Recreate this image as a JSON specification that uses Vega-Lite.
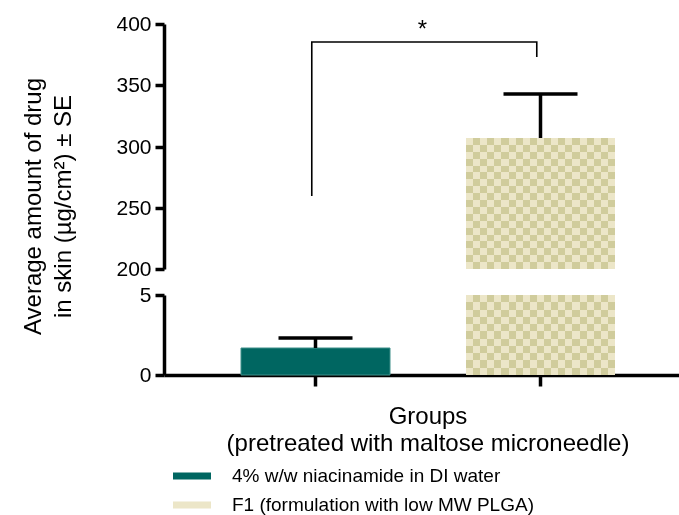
{
  "$schema": "https://vega.github.io/schema/vega-lite/v6.json",
  "padding": {"left": 20, "top": 13, "right": 0, "bottom": 12},
  "background": "white",
  "bounds": "flush",
  "spacing": 26,
  "config": {
    "font": "Liberation Sans",
    "view": {"stroke": null},
    "axis": {
      "domainColor": "black", "domainWidth": 3.5, "tickColor": "black", "tickWidth": 3.5, "tickSize": 9,
      "labelFont": "Liberation Sans", "labelFontSize": 21, "labelColor": "black", "labelPadding": 4, "grid": false,
      "titleFont": "Liberation Sans", "titleFontSize": 24, "titleFontWeight": "normal", "titleColor": "black"
    },
    "legend": {
      "title": null, "orient": "none", "legendX": 9, "legendY": 433, "direction": "vertical", "padding": 0,
      "symbolType": "M-1,-0.18H1V0.18H-1Z", "symbolSize": 1444, "symbolStrokeWidth": 0,
      "labelFont": "Liberation Sans", "labelFontSize": 19, "labelColor": "black", "labelOffset": 21, "rowPadding": -3, "labelLimit": 500
    }
  },
  "datasets": {
    "bars": [
      {"group": "4% w/w niacinamide in DI water", "mean": 1.67, "upper": 2.33},
      {"group": "F1 (formulation with low MW PLGA)", "mean": 307, "upper": 343}
    ],
    "bracket": [
      {"group": "4% w/w niacinamide in DI water", "v": 260, "o": 1},
      {"group": "4% w/w niacinamide in DI water", "v": 385, "o": 2},
      {"group": "F1 (formulation with low MW PLGA)", "v": 385, "o": 3},
      {"group": "F1 (formulation with low MW PLGA)", "v": 373, "o": 4}
    ],
    "star": [
      {"group": "4% w/w niacinamide in DI water", "v": 385}
    ]
  },
  "vconcat": [
    {
      "width": 527,
      "height": 245,
      "layer": [
        {
          "data": {"name": "bars"},
          "transform": [{"filter": "datum.mean > 100"}],
          "mark": {"type": "bar"},
          "encoding": {
            "x": {"field": "group", "type": "nominal", "axis": null,
                  "scale": {"domain": ["4% w/w niacinamide in DI water", "F1 (formulation with low MW PLGA)"], "paddingInner": 0.338, "paddingOuter": 0.34, "round": true}},
            "y": {"field": "mean", "type": "quantitative",
                  "scale": {"domain": [200, 400], "clamp": true, "zero": false, "nice": false, "round": true},
                  "axis": {"values": [200, 250, 300, 350, 400], "title": ["Average amount of drug", "in skin (µg/cm²) ± SE"],
                           "titleX": -131, "titleY": 182, "titleBaseline": "middle", "titleAlign": "center", "titleLineHeight": 30}},
            "color": {"field": "group", "type": "nominal",
                      "scale": {"domain": ["4% w/w niacinamide in DI water", "F1 (formulation with low MW PLGA)"], "range": ["#006661", "#ece6c8"]},
                      "legend": {"encode": {"symbols": {"update": {"fill": {"signal": "datum.value === 'F1 (formulation with low MW PLGA)' ? {gradient: 'linear', x1: 0, y1: 0, x2: 1, y2: 0, stops: [{offset: 0, color: '#d3cfa3'}, {offset: 0.22, color: '#d3cfa3'}, {offset: 0.22, color: '#ece7ca'}, {offset: 0.26, color: '#ece7ca'}, {offset: 0.26, color: '#d3cfa3'}, {offset: 0.48, color: '#d3cfa3'}, {offset: 0.48, color: '#ece7ca'}, {offset: 0.52, color: '#ece7ca'}, {offset: 0.52, color: '#d3cfa3'}, {offset: 0.74, color: '#d3cfa3'}, {offset: 0.74, color: '#ece7ca'}, {offset: 0.78, color: '#ece7ca'}, {offset: 0.78, color: '#d3cfa3'}, {offset: 1, color: '#d3cfa3'}]} : '#006661'"}}}}}}
          }
        },
        {
          "data": {"name": "bars"},
          "transform": [{"filter": "datum.mean > 100"}],
          "mark": {"type": "bar", "fill": {"gradient": "linear", "x1": 0, "y1": 0, "x2": 1, "y2": 0, "stops": [
            {"offset": 0, "color": "#000000"}, {"offset": 0.047619, "color": "#000000"},
            {"offset": 0.047619, "color": "#1c1a2c"}, {"offset": 0.095238, "color": "#1c1a2c"},
            {"offset": 0.095238, "color": "#000000"}, {"offset": 0.142857, "color": "#000000"},
            {"offset": 0.142857, "color": "#1c1a2c"}, {"offset": 0.190476, "color": "#1c1a2c"},
            {"offset": 0.190476, "color": "#000000"}, {"offset": 0.238095, "color": "#000000"},
            {"offset": 0.238095, "color": "#1c1a2c"}, {"offset": 0.285714, "color": "#1c1a2c"},
            {"offset": 0.285714, "color": "#000000"}, {"offset": 0.333333, "color": "#000000"},
            {"offset": 0.333333, "color": "#1c1a2c"}, {"offset": 0.380952, "color": "#1c1a2c"},
            {"offset": 0.380952, "color": "#000000"}, {"offset": 0.428571, "color": "#000000"},
            {"offset": 0.428571, "color": "#1c1a2c"}, {"offset": 0.47619, "color": "#1c1a2c"},
            {"offset": 0.47619, "color": "#000000"}, {"offset": 0.52381, "color": "#000000"},
            {"offset": 0.52381, "color": "#1c1a2c"}, {"offset": 0.571429, "color": "#1c1a2c"},
            {"offset": 0.571429, "color": "#000000"}, {"offset": 0.619048, "color": "#000000"},
            {"offset": 0.619048, "color": "#1c1a2c"}, {"offset": 0.666667, "color": "#1c1a2c"},
            {"offset": 0.666667, "color": "#000000"}, {"offset": 0.714286, "color": "#000000"},
            {"offset": 0.714286, "color": "#1c1a2c"}, {"offset": 0.761905, "color": "#1c1a2c"},
            {"offset": 0.761905, "color": "#000000"}, {"offset": 0.809524, "color": "#000000"},
            {"offset": 0.809524, "color": "#1c1a2c"}, {"offset": 0.857143, "color": "#1c1a2c"},
            {"offset": 0.857143, "color": "#000000"}, {"offset": 0.904762, "color": "#000000"},
            {"offset": 0.904762, "color": "#1c1a2c"}, {"offset": 0.952381, "color": "#1c1a2c"},
            {"offset": 0.952381, "color": "#000000"}, {"offset": 1, "color": "#000000"}
          ]}},
          "encoding": {
            "x": {"field": "group", "type": "nominal", "axis": null},
            "y": {"field": "mean", "type": "quantitative"}
          }
        },
        {
          "data": {"name": "bars"},
          "transform": [{"filter": "datum.mean > 100"}],
          "mark": {"type": "bar", "blend": "difference", "fill": {"gradient": "linear", "x1": 0, "y1": 0, "x2": 0, "y2": 1, "stops": [
            {"offset": 0, "color": "#000000"}, {"offset": 0.052632, "color": "#000000"},
            {"offset": 0.052632, "color": "#1c1a2c"}, {"offset": 0.105263, "color": "#1c1a2c"},
            {"offset": 0.105263, "color": "#000000"}, {"offset": 0.157895, "color": "#000000"},
            {"offset": 0.157895, "color": "#1c1a2c"}, {"offset": 0.210526, "color": "#1c1a2c"},
            {"offset": 0.210526, "color": "#000000"}, {"offset": 0.263158, "color": "#000000"},
            {"offset": 0.263158, "color": "#1c1a2c"}, {"offset": 0.315789, "color": "#1c1a2c"},
            {"offset": 0.315789, "color": "#000000"}, {"offset": 0.368421, "color": "#000000"},
            {"offset": 0.368421, "color": "#1c1a2c"}, {"offset": 0.421053, "color": "#1c1a2c"},
            {"offset": 0.421053, "color": "#000000"}, {"offset": 0.473684, "color": "#000000"},
            {"offset": 0.473684, "color": "#1c1a2c"}, {"offset": 0.526316, "color": "#1c1a2c"},
            {"offset": 0.526316, "color": "#000000"}, {"offset": 0.578947, "color": "#000000"},
            {"offset": 0.578947, "color": "#1c1a2c"}, {"offset": 0.631579, "color": "#1c1a2c"},
            {"offset": 0.631579, "color": "#000000"}, {"offset": 0.684211, "color": "#000000"},
            {"offset": 0.684211, "color": "#1c1a2c"}, {"offset": 0.736842, "color": "#1c1a2c"},
            {"offset": 0.736842, "color": "#000000"}, {"offset": 0.789474, "color": "#000000"},
            {"offset": 0.789474, "color": "#1c1a2c"}, {"offset": 0.842105, "color": "#1c1a2c"},
            {"offset": 0.842105, "color": "#000000"}, {"offset": 0.894737, "color": "#000000"},
            {"offset": 0.894737, "color": "#1c1a2c"}, {"offset": 0.947368, "color": "#1c1a2c"},
            {"offset": 0.947368, "color": "#000000"}, {"offset": 1, "color": "#000000"}
          ]}},
          "encoding": {
            "x": {"field": "group", "type": "nominal", "axis": null},
            "y": {"field": "mean", "type": "quantitative"}
          }
        },
        {
          "data": {"name": "bars"},
          "transform": [{"filter": "datum.mean > 100"}],
          "mark": {"type": "bar", "blend": "difference", "fill": "#ece6c8"},
          "encoding": {
            "x": {"field": "group", "type": "nominal", "axis": null},
            "y": {"field": "mean", "type": "quantitative"}
          }
        },
        {
          "data": {"name": "bars"},
          "transform": [{"filter": "datum.mean > 100"}],
          "mark": {"type": "rule", "color": "black", "strokeWidth": 3.5},
          "encoding": {
            "x": {"field": "group", "type": "nominal", "axis": null},
            "y": {"field": "mean", "type": "quantitative"},
            "y2": {"field": "upper"}
          }
        },
        {
          "data": {"name": "bars"},
          "transform": [{"filter": "datum.mean > 100"}],
          "mark": {"type": "tick", "color": "black", "size": 74, "thickness": 3.5, "opacity": 1},
          "encoding": {
            "x": {"field": "group", "type": "nominal", "axis": null},
            "y": {"field": "upper", "type": "quantitative"}
          }
        },
        {
          "data": {"name": "bracket"},
          "mark": {"type": "line", "color": "black", "strokeWidth": 1.6},
          "encoding": {
            "x": {"field": "group", "type": "nominal", "axis": null, "bandPosition": 0.475},
            "y": {"field": "v", "type": "quantitative"},
            "order": {"field": "o", "type": "quantitative"}
          }
        },
        {
          "data": {"name": "star"},
          "mark": {"type": "text", "text": "*", "fontSize": 24, "baseline": "alphabetic", "dy": -5, "color": "black", "font": "Liberation Sans"},
          "encoding": {
            "x": {"field": "group", "type": "nominal", "axis": null, "bandPosition": 1.218},
            "y": {"field": "v", "type": "quantitative"}
          }
        }
      ]
    },
    {
      "width": 527,
      "height": 80,
      "layer": [
        {
          "data": {"name": "bars"},
          "transform": [{"filter": "datum.mean < 100"}],
          "mark": {"type": "bar", "stroke": "#3f8f8a", "strokeWidth": 1},
          "encoding": {
            "x": {"field": "group", "type": "nominal",
                  "scale": {"domain": ["4% w/w niacinamide in DI water", "F1 (formulation with low MW PLGA)"], "paddingInner": 0.338, "paddingOuter": 0.34, "round": true},
                  "axis": {"labels": false, "tickSize": 11, "title": ["Groups", "(pretreated with maltose microneedle)"], "titlePadding": 17, "titleLineHeight": 27}},
            "y": {"field": "mean", "type": "quantitative",
                  "scale": {"domain": [0, 5], "clamp": true, "nice": false, "round": true},
                  "axis": {"values": [0, 5], "title": null}},
            "color": {"field": "group", "type": "nominal",
                      "scale": {"domain": ["4% w/w niacinamide in DI water", "F1 (formulation with low MW PLGA)"], "range": ["#006661", "#ece6c8"]}}
          }
        },
        {
          "data": {"name": "bars"},
          "transform": [{"filter": "datum.mean > 100"}],
          "mark": {"type": "bar", "fill": {"gradient": "linear", "x1": 0, "y1": 0, "x2": 1, "y2": 0, "stops": [
            {"offset": 0, "color": "#000000"}, {"offset": 0.047619, "color": "#000000"},
            {"offset": 0.047619, "color": "#1c1a2c"}, {"offset": 0.095238, "color": "#1c1a2c"},
            {"offset": 0.095238, "color": "#000000"}, {"offset": 0.142857, "color": "#000000"},
            {"offset": 0.142857, "color": "#1c1a2c"}, {"offset": 0.190476, "color": "#1c1a2c"},
            {"offset": 0.190476, "color": "#000000"}, {"offset": 0.238095, "color": "#000000"},
            {"offset": 0.238095, "color": "#1c1a2c"}, {"offset": 0.285714, "color": "#1c1a2c"},
            {"offset": 0.285714, "color": "#000000"}, {"offset": 0.333333, "color": "#000000"},
            {"offset": 0.333333, "color": "#1c1a2c"}, {"offset": 0.380952, "color": "#1c1a2c"},
            {"offset": 0.380952, "color": "#000000"}, {"offset": 0.428571, "color": "#000000"},
            {"offset": 0.428571, "color": "#1c1a2c"}, {"offset": 0.47619, "color": "#1c1a2c"},
            {"offset": 0.47619, "color": "#000000"}, {"offset": 0.52381, "color": "#000000"},
            {"offset": 0.52381, "color": "#1c1a2c"}, {"offset": 0.571429, "color": "#1c1a2c"},
            {"offset": 0.571429, "color": "#000000"}, {"offset": 0.619048, "color": "#000000"},
            {"offset": 0.619048, "color": "#1c1a2c"}, {"offset": 0.666667, "color": "#1c1a2c"},
            {"offset": 0.666667, "color": "#000000"}, {"offset": 0.714286, "color": "#000000"},
            {"offset": 0.714286, "color": "#1c1a2c"}, {"offset": 0.761905, "color": "#1c1a2c"},
            {"offset": 0.761905, "color": "#000000"}, {"offset": 0.809524, "color": "#000000"},
            {"offset": 0.809524, "color": "#1c1a2c"}, {"offset": 0.857143, "color": "#1c1a2c"},
            {"offset": 0.857143, "color": "#000000"}, {"offset": 0.904762, "color": "#000000"},
            {"offset": 0.904762, "color": "#1c1a2c"}, {"offset": 0.952381, "color": "#1c1a2c"},
            {"offset": 0.952381, "color": "#000000"}, {"offset": 1, "color": "#000000"}
          ]}},
          "encoding": {
            "x": {"field": "group", "type": "nominal"},
            "y": {"field": "mean", "type": "quantitative"}
          }
        },
        {
          "data": {"name": "bars"},
          "transform": [{"filter": "datum.mean > 100"}],
          "mark": {"type": "bar", "blend": "difference", "fill": {"gradient": "linear", "x1": 0, "y1": 0, "x2": 0, "y2": 1, "stops": [
            {"offset": 0, "color": "#000000"}, {"offset": 0.090909, "color": "#000000"},
            {"offset": 0.090909, "color": "#1c1a2c"}, {"offset": 0.181818, "color": "#1c1a2c"},
            {"offset": 0.181818, "color": "#000000"}, {"offset": 0.272727, "color": "#000000"},
            {"offset": 0.272727, "color": "#1c1a2c"}, {"offset": 0.363636, "color": "#1c1a2c"},
            {"offset": 0.363636, "color": "#000000"}, {"offset": 0.454545, "color": "#000000"},
            {"offset": 0.454545, "color": "#1c1a2c"}, {"offset": 0.545455, "color": "#1c1a2c"},
            {"offset": 0.545455, "color": "#000000"}, {"offset": 0.636364, "color": "#000000"},
            {"offset": 0.636364, "color": "#1c1a2c"}, {"offset": 0.727273, "color": "#1c1a2c"},
            {"offset": 0.727273, "color": "#000000"}, {"offset": 0.818182, "color": "#000000"},
            {"offset": 0.818182, "color": "#1c1a2c"}, {"offset": 0.909091, "color": "#1c1a2c"},
            {"offset": 0.909091, "color": "#000000"}, {"offset": 1, "color": "#000000"}
          ]}},
          "encoding": {
            "x": {"field": "group", "type": "nominal"},
            "y": {"field": "mean", "type": "quantitative"}
          }
        },
        {
          "data": {"name": "bars"},
          "transform": [{"filter": "datum.mean > 100"}],
          "mark": {"type": "bar", "blend": "difference", "fill": "#ece6c8"},
          "encoding": {
            "x": {"field": "group", "type": "nominal"},
            "y": {"field": "mean", "type": "quantitative"}
          }
        },
        {
          "data": {"name": "bars"},
          "transform": [{"filter": "datum.mean < 100"}],
          "mark": {"type": "rule", "color": "black", "strokeWidth": 3.5},
          "encoding": {
            "x": {"field": "group", "type": "nominal"},
            "y": {"field": "mean", "type": "quantitative"},
            "y2": {"field": "upper"}
          }
        },
        {
          "data": {"name": "bars"},
          "transform": [{"filter": "datum.mean < 100"}],
          "mark": {"type": "tick", "color": "black", "size": 74, "thickness": 3.5, "opacity": 1},
          "encoding": {
            "x": {"field": "group", "type": "nominal"},
            "y": {"field": "upper", "type": "quantitative"}
          }
        }
      ]
    }
  ]
}
